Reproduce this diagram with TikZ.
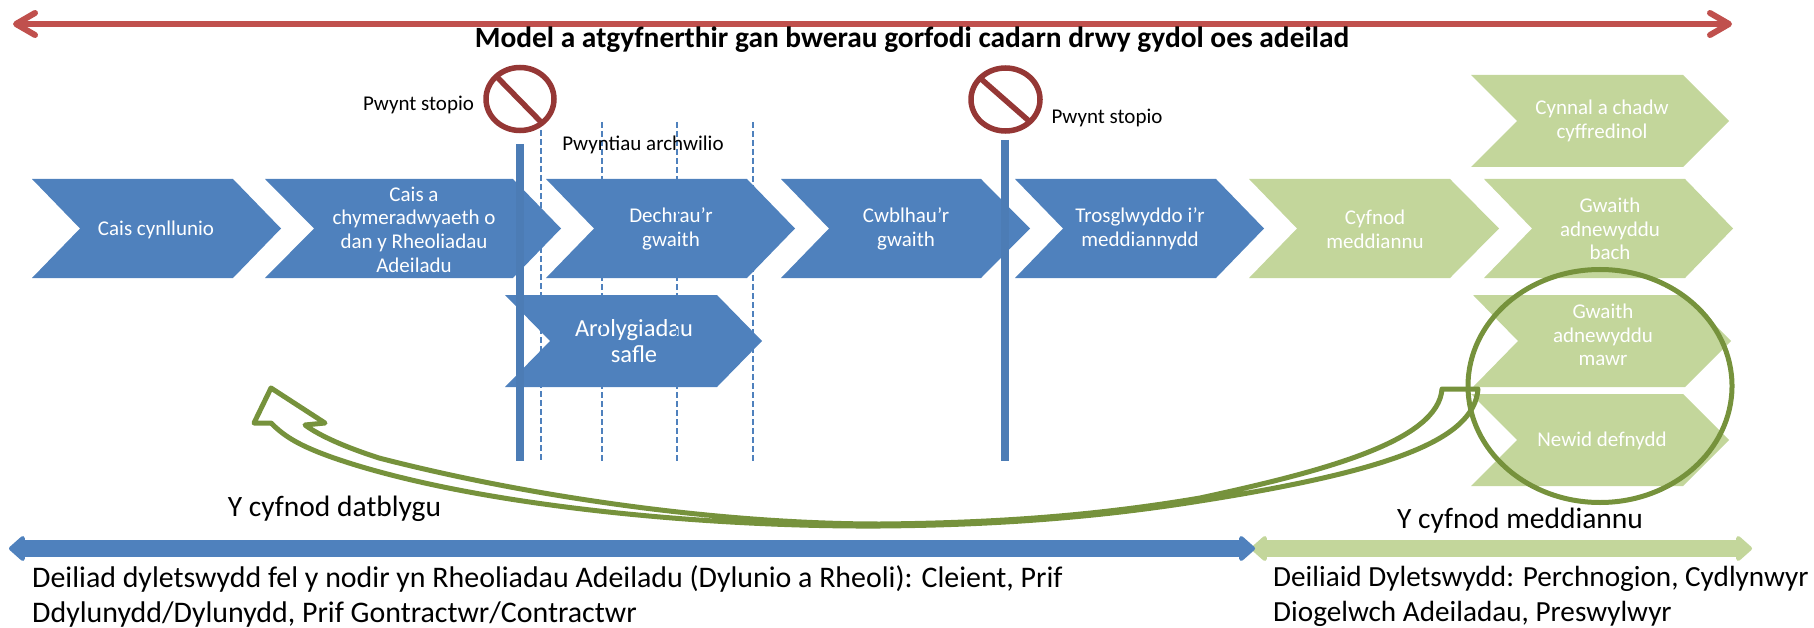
\documentclass[tikz,border=0pt]{standalone}
\usepackage{fontspec}
\setmainfont{Carlito}
\usetikzlibrary{arrows.meta}

\definecolor{chevblue}{HTML}{4F81BD}
\definecolor{chevgreen}{HTML}{C3D69B}
\definecolor{loopgreen}{HTML}{76923C}
\definecolor{spanred}{HTML}{C0504D}
\definecolor{stopred}{HTML}{953735}

\tikzset{
  phase/.style={text=white,align=center,inner sep=0pt,font=\fontsize{21}{23.6}\selectfont},
  note/.style={inner sep=0pt,font=\fontsize{21}{24}\selectfont},
  phasetitle/.style={inner sep=0pt,font=\fontsize{29.5}{32}\selectfont},
  duties/.style={inner sep=0pt,align=left,anchor=west,font=\fontsize{29.9}{35.5}\selectfont},
  stopring/.style={draw=stopred,line width=5.5pt},
  stopbar/.style={draw=chevblue!96!black,line width=8pt},
  checkline/.style={draw=chevblue,line width=1.2pt,dash pattern=on 6pt off 3pt},
  spanarrow/.style={line width=17pt,line join=round,{Triangle[length=17pt,width=29pt,round]}-{Triangle[length=17pt,width=29pt,round]}}
}

% fill, left, notch, top right, tip, top, bottom
\newcommand{\chevron}[7]{
  \fill[#1] (#2,#6) -- (#4,#6) -- (#5,{(#6+#7)/2}) -- (#4,#7) -- (#2,#7) -- (#3,{(#6+#7)/2}) -- cycle;
}

\begin{document}
\begin{tikzpicture}[x=1pt,y=-1pt]
  \useasboundingbox (0,0) rectangle (1814,628);

  % top span
  \coordinate (redl) at (13,24);
  \coordinate (redr) at (1732,24);
  \draw[spanred,line width=6pt,{Straight Barb[length=19pt,width=22pt,round]}-{Straight Barb[length=19pt,width=22pt,round]}] (redl) -- (redr);
  \node[inner sep=0pt,font=\fontsize{29.4}{32}\selectfont\bfseries] at (912,40) (modeltitle) {Model a atgyfnerthir gan bwerau gorfodi cadarn drwy gydol oes adeilad};

  % development chevrons
  \chevron{chevblue}{32}{80}{233}{281}{179}{278}
  \chevron{chevblue}{265}{314}{513}{561}{179}{278}
  \chevron{chevblue}{546}{594}{747}{795}{179}{278}
  \chevron{chevblue}{781}{829}{981}{1030}{179}{278}
  \chevron{chevblue}{1015}{1063}{1216}{1264}{179}{278}
  \chevron{chevblue}{505}{550}{717}{762}{295}{387}

  % occupation chevrons
  \chevron{chevgreen}{1249}{1297}{1450}{1499}{179}{278}
  \chevron{chevgreen}{1484}{1532}{1685}{1733}{179}{278}
  \chevron{chevgreen}{1471}{1517}{1683}{1729}{75}{167}
  \chevron{chevgreen}{1473}{1518}{1685}{1731}{295}{387}
  \chevron{chevgreen}{1471}{1517}{1683}{1729}{394}{486}

  \node[phase] at (156,230) (planning) {Cais cynllunio};
  \node[phase] at (414,229.5) (approval) {Cais a\\chymeradwyaeth o\\dan y Rheoliadau\\Adeiladu};
  \node[phase] at (671,229) (startwork) {Dechrau’r\\gwaith};
  \node[phase] at (906,229) (endwork) {Cwblhau'r\\gwaith};
  \node[phase] at (1140,229) (handover) {Trosglwyddo i'r\\meddiannydd};
  \node[phase,font=\fontsize{24.5}{26}\selectfont] at (634,341) (inspect) {Arolygiadau\\safle};
  \node[phase] at (1375,229) (occupy) {Cyfnod\\meddiannu};
  \node[phase] at (1610,229) (minor) {Gwaith\\adnewyddu\\bach};
  \node[phase] at (1602,121) (upkeep) {Cynnal a chadw\\cyffredinol};
  \node[phase] at (1603,335) (major) {Gwaith\\adnewyddu\\mawr};
  \node[phase] at (1602,441) (change) {Newid defnydd};

  % check points
  \foreach \cx/\cy in {541/130,602/122,677/122,753/122}
    \draw[checkline] (\cx,\cy) -- (\cx,461);
  \node[note] at (643,145) (checks) {Pwyntiau archwilio};

  % stop points
  \draw[stopbar] (520,144) -- (520,461);
  \draw[stopbar] (1005,140) -- (1005,461);

  \draw[stopring] (520,99) ellipse (34 and 31.5);
  \draw[stopring] (497,77) -- (541,122);
  \node[note] at (418.5,105) (stopa) {Pwynt stopio};
  \draw[stopring] (1005.5,99.5) ellipse (34.5 and 31.5);
  \draw[stopring] (980,78) -- (1029,121);
  \node[note] at (1107,118) (stopb) {Pwynt stopio};

  % feedback loop
  \draw[loopgreen,line width=5pt] (1600,386) ellipse (132 and 116.5);
  \draw[loopgreen,line width=5pt,line join=round]
    (1442,389) .. controls (1438,440) and (1330,470) .. (1200,498)
    .. controls (1100,515) and (1000,523) .. (880,524)
    .. controls (720,524) and (530,497) .. (379,458)
    .. controls (345,447) and (320,436) .. (305,425)
    -- (325,423) -- (271,388) -- (254,423) -- (271,423)
    .. controls (285,437) and (300,446) .. (334,458)
    .. controls (470,505) and (700,527) .. (880,526)
    .. controls (1000,525) and (1100,517) .. (1200,501)
    .. controls (1390,471) and (1474,440) .. (1478,389) -- cycle;

  % bottom spans
  \coordinate (bluel) at (9,548.5);
  \coordinate (bluer) at (1255,548.5);
  \coordinate (greenl) at (1251,548.5);
  \coordinate (greenr) at (1752,548.5);
  \draw[chevgreen,spanarrow] (greenl) -- (greenr);
  \draw[chevblue,spanarrow] (bluel) -- (bluer);

  \node[phasetitle] at (334.5,509) (devtitle) {Y cyfnod datblygu};
  \node[phasetitle] at (1520,521) (occtitle) {Y cyfnod meddiannu};
  \node[duties] at (32,596.5) (devduties) {Deiliad dyletswydd fel y nodir yn Rheoliadau Adeiladu (Dylunio a Rheoli): Cleient, Prif\\Ddylunydd/Dylunydd, Prif Gontractwr/Contractwr};
  \node[duties,font=\fontsize{29.2}{35.5}\selectfont] at (1273,596.5) (occduties) {Deiliaid Dyletswydd: Perchnogion, Cydlynwyr\\Diogelwch Adeiladau, Preswylwyr};
\end{tikzpicture}
\end{document}
